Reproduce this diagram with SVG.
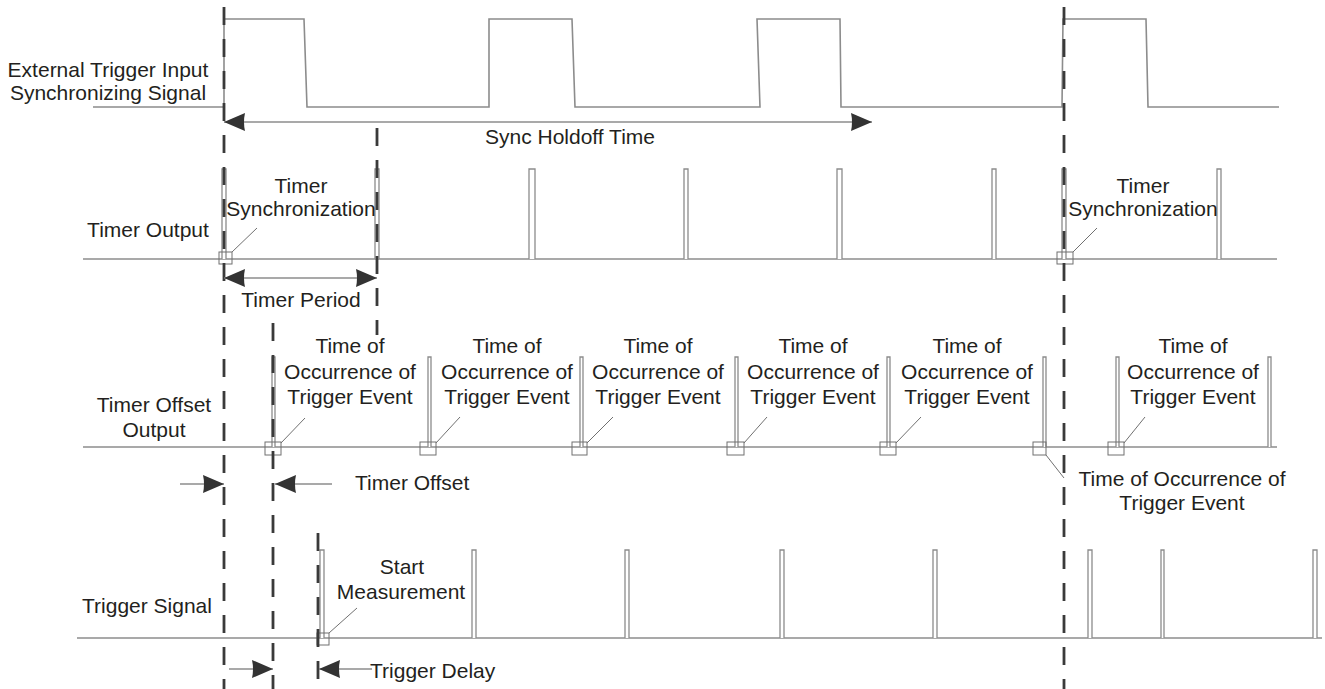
<svg xmlns="http://www.w3.org/2000/svg" width="1325" height="689" viewBox="0 0 1325 689">
<style>
text{font-family:"Liberation Sans",Arial,sans-serif;font-size:21px;fill:#231f20}
.c{text-anchor:middle}
.w{fill:none;stroke:#8c8c8c;stroke-width:1.6}
.p{fill:#fff;stroke:#8c8c8c;stroke-width:1.3}
.d{fill:none;stroke:#3a3a3a;stroke-width:2.8;stroke-dasharray:18 14}
.a{fill:none;stroke:#8c8c8c;stroke-width:1.5}
.l{fill:none;stroke:#707070;stroke-width:1}
.sq{fill:none;stroke:#707070;stroke-width:1}
</style>
<defs>
<marker id="ah" markerUnits="userSpaceOnUse" markerWidth="23" markerHeight="18" viewBox="0 0 23 18" refX="22" refY="9" orient="auto-start-reverse">
<path d="M1,0 Q3,9 1,18 L22,9 Z" fill="#333"/>
</marker>
</defs>
<rect width="1325" height="689" fill="#fff"/>

<g id="row-external-trigger">
<text class="c" x="108" y="77">External Trigger Input</text>
<text class="c" x="108" y="100">Synchronizing Signal</text>
<path class="w" d="M93,107 H224 V19 H304 L307,107 H489 L489,19 H572 L575,107 H760 L757,19 H840 L841,107 H1062 L1063,19 H1146 L1148,107 H1279"/>
</g>

<g id="row-timer-output">
<text class="c" x="148" y="237">Timer Output</text>
<path class="w" d="M83,259 H1277"/>
<path class="p" d="M222,259 V169 H226 V259"/>
<path class="p" d="M375,259 V169 H379 V259"/>
<path class="p" d="M529,259 V169 H535 V259"/>
<path class="p" d="M684,259 V169 H688 V259"/>
<path class="p" d="M837,259 V169 H842 V259"/>
<path class="p" d="M992,259 V169 H996 V259"/>
<path class="p" d="M1062,259 V169 H1066 V259"/>
<path class="p" d="M1217,259 V169 H1221 V259"/>
<rect class="sq" x="219" y="252" width="13" height="12"/>
<rect class="sq" x="1057" y="252" width="16" height="12"/>
</g>

<g id="row-timer-offset">
<text class="c" x="154" y="412">Timer Offset</text>
<text class="c" x="154" y="437">Output</text>
<path class="w" d="M83,447 H1277"/>
<path class="p" d="M272,447 V357 H275 V447"/>
<path class="p" d="M428,447 V357 H431 V447"/>
<path class="p" d="M580,447 V357 H583 V447"/>
<path class="p" d="M735,447 V357 H738 V447"/>
<path class="p" d="M887,447 V357 H890 V447"/>
<path class="p" d="M1043,447 V357 H1046 V447"/>
<path class="p" d="M1116,447 V357 H1119 V447"/>
<path class="p" d="M1268,447 V357 H1271 V447"/>
<rect class="sq" x="265" y="442" width="16" height="13"/>
<rect class="sq" x="420" y="442" width="16" height="13"/>
<rect class="sq" x="572" y="442" width="15" height="13"/>
<rect class="sq" x="727" y="442" width="17" height="13"/>
<rect class="sq" x="880" y="442" width="16" height="13"/>
<rect class="sq" x="1033" y="442" width="13" height="13"/>
<rect class="sq" x="1108" y="442" width="16" height="13"/>
</g>

<g id="row-trigger-signal">
<text x="82" y="613">Trigger Signal</text>
<path class="w" d="M77,638 H1322"/>
<path class="p" d="M320,638 V550 H324 V638"/>
<path class="p" d="M472,638 V550 H476 V638"/>
<path class="p" d="M625,638 V550 H629 V638"/>
<path class="p" d="M780,638 V550 H784 V638"/>
<path class="p" d="M933,638 V550 H937 V638"/>
<path class="p" d="M1088,638 V550 H1092 V638"/>
<path class="p" d="M1161,638 V550 H1164 V638"/>
<path class="p" d="M1313,638 V550 H1317 V638"/>
<rect class="sq" x="317" y="633" width="12" height="12"/>
</g>

<g id="sync-lines">
<line class="d" x1="224" y1="7" x2="224" y2="689"/>
<line class="d" x1="1064" y1="7" x2="1064" y2="689"/>
<line class="d" x1="377" y1="128" x2="377" y2="335"/>
<line class="d" x1="273" y1="323" x2="273" y2="689"/>
<line class="d" x1="318" y1="533" x2="318" y2="689"/>
</g>

<g id="labels">
<text class="c" x="570" y="144">Sync Holdoff Time</text>
<text class="c" x="301" y="193">Timer</text>
<text class="c" x="301" y="216">Synchronization</text>
<text class="c" x="1143" y="193">Timer</text>
<text class="c" x="1143" y="216">Synchronization</text>
<text class="c" x="301" y="307">Timer Period</text>
<text class="c" x="350" y="353">Time of</text>
<text class="c" x="350" y="379">Occurrence of</text>
<text class="c" x="350" y="404">Trigger Event</text>
<text class="c" x="507" y="353">Time of</text>
<text class="c" x="507" y="379">Occurrence of</text>
<text class="c" x="507" y="404">Trigger Event</text>
<text class="c" x="658" y="353">Time of</text>
<text class="c" x="658" y="379">Occurrence of</text>
<text class="c" x="658" y="404">Trigger Event</text>
<text class="c" x="813" y="353">Time of</text>
<text class="c" x="813" y="379">Occurrence of</text>
<text class="c" x="813" y="404">Trigger Event</text>
<text class="c" x="967" y="353">Time of</text>
<text class="c" x="967" y="379">Occurrence of</text>
<text class="c" x="967" y="404">Trigger Event</text>
<text class="c" x="1193" y="353">Time of</text>
<text class="c" x="1193" y="379">Occurrence of</text>
<text class="c" x="1193" y="404">Trigger Event</text>
<text class="c" x="1182" y="486">Time of Occurrence of</text>
<text class="c" x="1182" y="510">Trigger Event</text>
<text x="355" y="490">Timer Offset</text>
<text class="c" x="402" y="574">Start</text>
<text class="c" x="401" y="599">Measurement</text>
<text x="370" y="678">Trigger Delay</text>
</g>

<g id="connectors">
<line class="a" x1="224" y1="122" x2="872" y2="122" marker-start="url(#ah)" marker-end="url(#ah)"/>
<line class="a" x1="224" y1="278" x2="377" y2="278" marker-start="url(#ah)" marker-end="url(#ah)"/>
<line class="a" x1="180" y1="484" x2="224" y2="484" marker-end="url(#ah)"/>
<line class="a" x1="332" y1="484" x2="275" y2="484" marker-end="url(#ah)"/>
<line class="a" x1="229" y1="669" x2="273" y2="669" marker-end="url(#ah)"/>
<line class="a" x1="372" y1="669" x2="319" y2="669" marker-end="url(#ah)"/>
<line class="l" x1="232" y1="252" x2="257" y2="228"/>
<line class="l" x1="1073" y1="252" x2="1097" y2="228"/>
<line class="l" x1="281" y1="443" x2="305" y2="418"/>
<line class="l" x1="436" y1="443" x2="460" y2="417"/>
<line class="l" x1="587" y1="443" x2="613" y2="417"/>
<line class="l" x1="744" y1="443" x2="767" y2="417"/>
<line class="l" x1="896" y1="443" x2="921" y2="417"/>
<line class="l" x1="1124" y1="443" x2="1145" y2="417"/>
<line class="l" x1="1046" y1="455" x2="1064" y2="478"/>
<line class="l" x1="329" y1="633" x2="357" y2="608"/>
</g>
</svg>
